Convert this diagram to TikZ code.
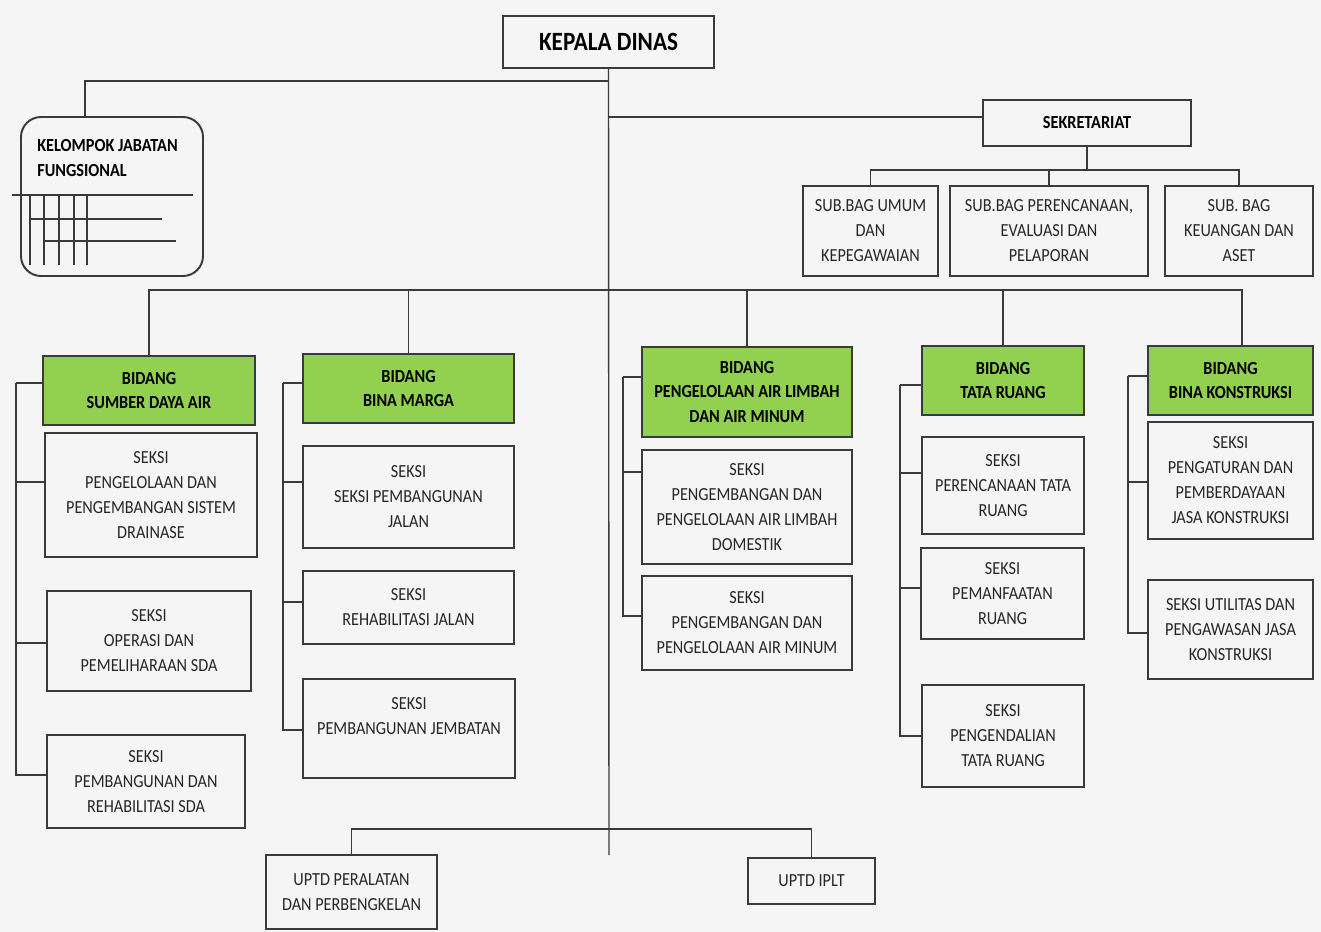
\documentclass[tikz,border=0pt]{standalone}
\usepackage{fontspec}
\setmainfont{Carlito}[FakeStretch=0.88]
\definecolor{paper}{HTML}{F5F5F5}
\definecolor{ink}{HTML}{3A3A3A}
\definecolor{bidanggreen}{HTML}{92D050}
\newcommand{\unitfont}{\fontsize{10.5}{14.2}\selectfont}
\newcommand{\kepalafont}{\fontsize{15}{18}\selectfont\bfseries}
\tikzset{
  boxat/.style n args={4}{at={({(#1+#3)/2},{(#2+#4)/2})},
    minimum width={(#3-#1)*0.02cm}, minimum height={(#4-#2)*0.02cm}},
  unit/.style={draw=ink, line width=1.1pt, align=center, inner sep=1pt,
    font=\unitfont, text=black!85},
  bidang/.style={unit, fill=bidanggreen, font=\unitfont\bfseries, text=black},
  link/.style={draw=ink, line width=0.8pt},
}
\begin{document}
\begin{tikzpicture}[x=0.02cm, y=-0.02cm]
\fill[paper] (0,0) rectangle (1321,932);
\useasboundingbox (0,0) rectangle (1321,932);

% top
\node[unit, boxat={503}{16}{714}{68}, font=\kepalafont, text=black] (kd) {KEPALA DINAS};
\node[unit, boxat={21}{117}{203}{276}, rounded corners=0.4cm] (kjf) {};
\node[anchor=north west, inner sep=0pt, align=left, font=\unitfont\bfseries] (kjftext) at (37,139)
  {KELOMPOK JABATAN\\FUNGSIONAL};
\draw[link] (12,195) -- (193,195);
\foreach \x in {30,44,59,74,87} \draw[link] (\x,195) -- (\x,265);
\draw[link] (30,219) -- (162,219);
\draw[link] (44,241) -- (176,241);

\node[unit, boxat={983}{100}{1191}{146}, font=\unitfont\bfseries, text=black] (sek) {SEKRETARIAT};
\node[unit, boxat={803}{186}{938}{276}] (sb1) {SUB.BAG UMUM\\DAN\\KEPEGAWAIAN};
\node[unit, boxat={950}{186}{1148}{276}] (sb2) {SUB.BAG PERENCANAAN,\\EVALUASI DAN\\PELAPORAN};
\node[unit, boxat={1165}{186}{1313}{276}] (sb3) {SUB. BAG\\KEUANGAN DAN\\ASET};

% bidang
\node[bidang, boxat={43}{356}{255}{425}] (b1) {BIDANG\\SUMBER DAYA AIR};
\node[bidang, boxat={303}{354}{514}{423}] (b2) {BIDANG\\BINA MARGA};
\node[bidang, boxat={642}{347}{852}{437}] (b3) {BIDANG\\PENGELOLAAN AIR LIMBAH\\DAN AIR MINUM};
\node[bidang, boxat={922}{346}{1084}{415}] (b4) {BIDANG\\TATA RUANG};
\node[bidang, boxat={1148}{346}{1313}{415}] (b5) {BIDANG\\BINA KONSTRUKSI};

% seksi
\node[unit, boxat={45}{433}{257}{557}] (s11) {SEKSI\\PENGELOLAAN DAN\\PENGEMBANGAN SISTEM\\DRAINASE};
\node[unit, boxat={47}{591}{251}{691}] (s12) {SEKSI\\OPERASI DAN\\PEMELIHARAAN SDA};
\node[unit, boxat={47}{735}{245}{828}] (s13) {SEKSI\\PEMBANGUNAN DAN\\REHABILITASI SDA};
\node[unit, boxat={303}{446}{514}{548}] (s21) {SEKSI\\SEKSI PEMBANGUNAN\\JALAN};
\node[unit, boxat={303}{571}{514}{644}] (s22) {SEKSI\\REHABILITASI JALAN};
\node[unit, boxat={303}{679}{515}{778}] (s23) {SEKSI\\PEMBANGUNAN JEMBATAN\\\mbox{}};
\node[unit, boxat={642}{450}{852}{564}] (s31) {SEKSI\\PENGEMBANGAN DAN\\PENGELOLAAN AIR LIMBAH\\DOMESTIK};
\node[unit, boxat={642}{576}{852}{670}] (s32) {SEKSI\\PENGEMBANGAN DAN\\PENGELOLAAN AIR MINUM};
\node[unit, boxat={922}{437}{1084}{534}] (s41) {SEKSI\\PERENCANAAN TATA\\RUANG};
\node[unit, boxat={921}{548}{1084}{639}] (s42) {SEKSI\\PEMANFAATAN\\RUANG};
\node[unit, boxat={922}{685}{1084}{787}] (s43) {SEKSI\\PENGENDALIAN\\TATA RUANG};
\node[unit, boxat={1148}{422}{1313}{539}] (s51) {SEKSI\\PENGATURAN DAN\\PEMBERDAYAAN\\JASA KONSTRUKSI};
\node[unit, boxat={1148}{580}{1313}{679}] (s52) {SEKSI UTILITAS DAN\\PENGAWASAN JASA\\KONSTRUKSI};

% uptd
\node[unit, boxat={266}{855}{437}{929}] (up1) {UPTD PERALATAN\\DAN PERBENGKELAN};
\node[unit, boxat={748}{858}{875}{904}] (up2) {UPTD IPLT};

% connectors
\coordinate (trunkend) at (609,855);
\coordinate (kjfjoint) at (609,81);
\coordinate (sekjoint) at (609,117);
\coordinate (sekbus) at (1087,170);
\coordinate (bus) at (609,290);
\coordinate (uptdbus) at (609,829);
\draw[link] (kd.south) -- (trunkend);
\draw[link] (kjfjoint) -| ([xshift=-0.54cm]kjf.north);
\draw[link] (sekjoint) -- (sekjoint -| sek.west);
\draw[link] (sek.south) -- (sekbus);
\draw[link] (sb1.north) |- (sekbus) -| (sb3.north);
\draw[link] (sb2.north) -- (sb2.north |- sekbus);
\draw[link] (b1.north) |- (bus) -| ([xshift=0.23cm]b5.north);
\foreach \n in {b2,b3,b4} \draw[link] (\n.north) -- (\n.north |- bus);
\draw[link] (up1.north) |- (uptdbus) -| (up2.north);

% side buses
\coordinate (sdabus) at (16,383);
\coordinate (bmbus) at (283,383);
\coordinate (palbus) at (623,377);
\coordinate (trbus) at (900,385);
\coordinate (bkbus) at (1128,376);
\draw[link] (b1.west |- sdabus) -- (sdabus);
\draw[link] (b2.west |- bmbus) -- (bmbus);
\draw[link] (b3.west |- palbus) -- (palbus);
\draw[link] (b4.west |- trbus) -- (trbus);
\draw[link] (b5.west |- bkbus) -- (bkbus);
\foreach \n/\dy in {s11/0.26,s12/-0.04,s13/0.13}
  \draw[link] ([yshift=\dy cm]\n.west) -| (sdabus);
\foreach \n/\dy in {s21/0.3,s22/0.11,s23/-0.03}
  \draw[link] ([yshift=\dy cm]\n.west) -| (bmbus);
\foreach \n/\dy in {s31/0.7,s32/0.14}
  \draw[link] ([yshift=\dy cm]\n.west) -| (palbus);
\foreach \n/\dy in {s41/0.25,s42/0.11,s43/0}
  \draw[link] ([yshift=\dy cm]\n.west) -| (trbus);
\foreach \n/\dy in {s51/-0.03,s52/-0.07}
  \draw[link] ([yshift=\dy cm]\n.west) -| (bkbus);
\end{tikzpicture}
\end{document}
